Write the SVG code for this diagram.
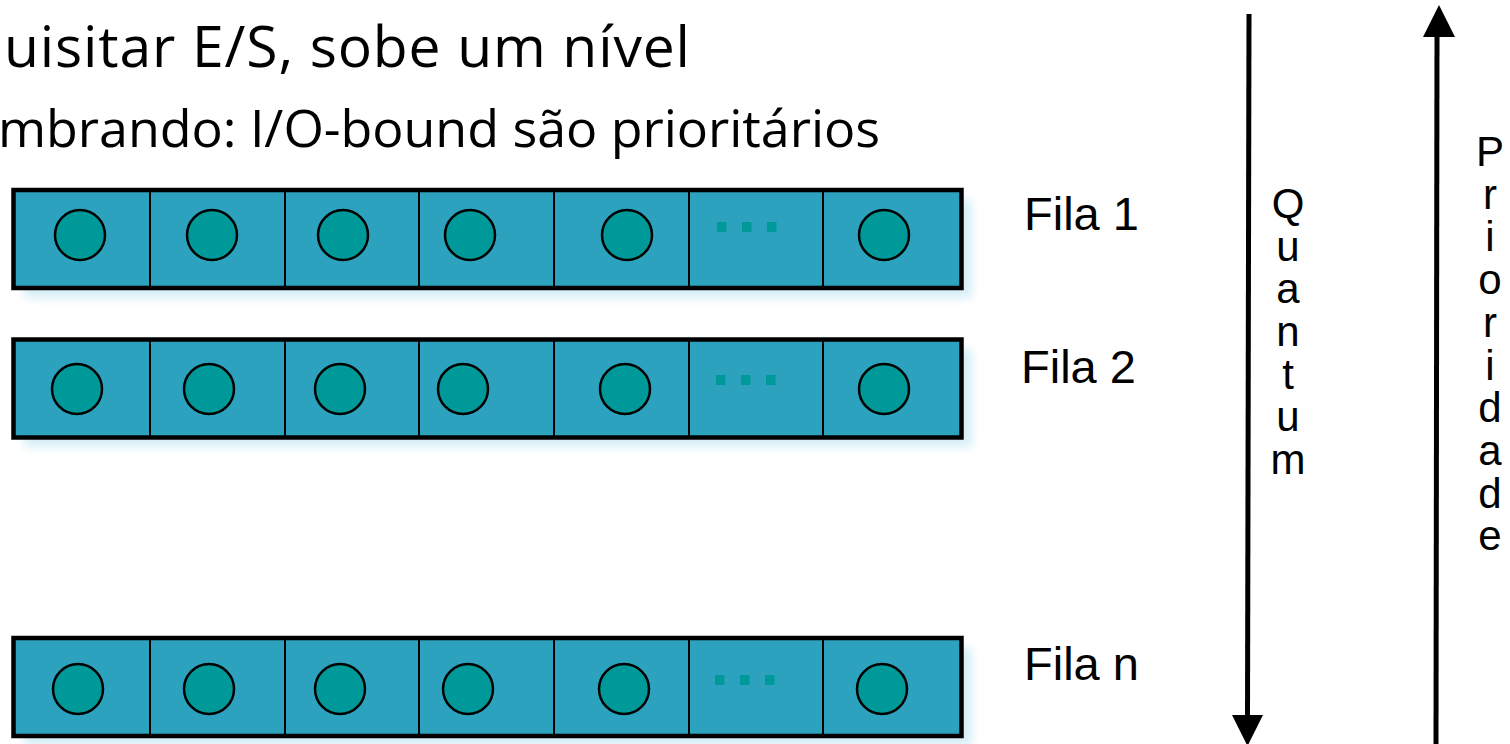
<svg xmlns="http://www.w3.org/2000/svg" width="1510" height="744" viewBox="0 0 1510 744">
<style>
.title{font-family:"Open Sans","DejaVu Sans",sans-serif;font-size:52px;fill:#000}
.t1{font-size:57px}
.lbl{font-family:"Liberation Sans",Arial,sans-serif;font-size:47px;fill:#000}
.vt{font-family:"Liberation Sans",Arial,sans-serif;font-size:42px;fill:#000;text-anchor:middle}
.box{fill:#2ca2bf;stroke:#000;stroke-width:4.5}
.div{stroke:#000;stroke-width:2}
.dot{fill:#009999;stroke:#000;stroke-width:2.5}
.sq{fill:#009999}
.shadow{fill:#d6eef7;filter:url(#blur)}
.ln{stroke:#000;stroke-width:5;fill:none}
</style>
<defs>
<filter id="blur" x="-5%" y="-30%" width="110%" height="160%"><feGaussianBlur stdDeviation="5"/></filter>
<g id="cells">
<line class="div" x1="150" y1="0" x2="150" y2="98"/>
<line class="div" x1="285" y1="0" x2="285" y2="98"/>
<line class="div" x1="419" y1="0" x2="419" y2="98"/>
<line class="div" x1="554" y1="0" x2="554" y2="98"/>
<line class="div" x1="689" y1="0" x2="689" y2="98"/>
<line class="div" x1="823" y1="0" x2="823" y2="98"/>
</g>
</defs>
<rect width="1510" height="744" fill="#fff"/>
<text class="title t1" x="4" y="67" textLength="686">uisitar E/S, sobe um nível</text>
<text class="title" x="-2" y="147" textLength="882">mbrando: I/O-bound são prioritários</text>

<g id="fila1">
<rect class="shadow" x="24" y="200" width="948" height="98"/>
<rect class="box" x="13.5" y="190" width="948" height="98"/>
<use href="#cells" transform="translate(0,190)"/>
<circle class="dot" cx="80" cy="235" r="25"/>
<circle class="dot" cx="212" cy="235" r="25"/>
<circle class="dot" cx="343" cy="235" r="25"/>
<circle class="dot" cx="470" cy="235" r="25"/>
<circle class="dot" cx="627" cy="235" r="25"/>
<rect class="sq" x="717" y="222" width="9.5" height="10"/>
<rect class="sq" x="742" y="222" width="9.5" height="10"/>
<rect class="sq" x="767" y="222" width="9.5" height="10"/>
<circle class="dot" cx="884" cy="235" r="25"/>
<text class="lbl" x="1024" y="230">Fila 1</text>
</g>

<g id="fila2">
<rect class="shadow" x="24" y="349" width="948" height="98"/>
<rect class="box" x="13.5" y="339.5" width="948" height="98"/>
<use href="#cells" transform="translate(0,339.5)"/>
<circle class="dot" cx="77" cy="389" r="25"/>
<circle class="dot" cx="209" cy="389" r="25"/>
<circle class="dot" cx="340" cy="389" r="25"/>
<circle class="dot" cx="463" cy="389" r="25"/>
<circle class="dot" cx="625" cy="389" r="25"/>
<rect class="sq" x="716" y="375" width="9.5" height="10"/>
<rect class="sq" x="741" y="375" width="9.5" height="10"/>
<rect class="sq" x="766" y="375" width="9.5" height="10"/>
<circle class="dot" cx="884" cy="389" r="25"/>
<text class="lbl" x="1021" y="383">Fila 2</text>
</g>

<g id="filan">
<rect class="shadow" x="24" y="648" width="948" height="98"/>
<rect class="box" x="13.5" y="638" width="948" height="98"/>
<use href="#cells" transform="translate(0,638)"/>
<circle class="dot" cx="78" cy="689" r="25"/>
<circle class="dot" cx="209" cy="689" r="25"/>
<circle class="dot" cx="340" cy="689" r="25"/>
<circle class="dot" cx="468" cy="689" r="25"/>
<circle class="dot" cx="624" cy="689" r="25"/>
<rect class="sq" x="715" y="675" width="9.5" height="10"/>
<rect class="sq" x="740" y="675" width="9.5" height="10"/>
<rect class="sq" x="765" y="675" width="9.5" height="10"/>
<circle class="dot" cx="882" cy="689" r="25"/>
<text class="lbl" x="1024" y="680">Fila n</text>
</g>

<g id="connectors">
<line class="ln" x1="1249" y1="14" x2="1247.5" y2="718"/>
<polygon points="1232,715 1263,715 1247.5,746" fill="#000"/>
<line class="ln" x1="1437" y1="34" x2="1436" y2="744"/>
<polygon points="1423,37 1455,37 1439,5" fill="#000"/>
</g>

<g id="quantum-label">
<text class="vt" x="1288"><tspan x="1288" y="218">Q</tspan><tspan x="1288" y="261">u</tspan><tspan x="1288" y="303">a</tspan><tspan x="1288" y="346">n</tspan><tspan x="1288" y="389">t</tspan><tspan x="1288" y="431">u</tspan><tspan x="1288" y="474">m</tspan></text>
</g>
<g id="prioridade-label">
<text class="vt" x="1490"><tspan x="1490" y="166">P</tspan><tspan x="1490" y="209">r</tspan><tspan x="1490" y="251">i</tspan><tspan x="1490" y="294">o</tspan><tspan x="1490" y="337">r</tspan><tspan x="1490" y="380">i</tspan><tspan x="1490" y="422">d</tspan><tspan x="1490" y="465">a</tspan><tspan x="1490" y="508">d</tspan><tspan x="1490" y="550">e</tspan></text>
</g>
</svg>
